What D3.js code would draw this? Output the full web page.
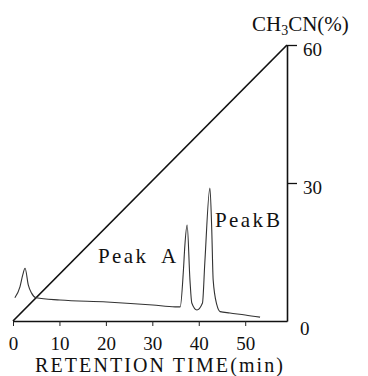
<!DOCTYPE html>
<html>
<head>
<meta charset="utf-8">
<script src="https://cdn.jsdelivr.net/npm/d3@7"></script>
</head>
<body style="margin:0">
<script>
// Data.
// retention time (min) and detector signal (arbitrary units)
const traceTime = [0.4, 1.5, 2.1, 2.6, 3.3, 4.0, 5.0, 10.1, 20.2, 30.1, 34.9, 36.0, 36.7, 37.0, 37.5,
  38.1, 38.5, 39.6, 40.8, 41.3, 42.4, 42.8, 43.1, 43.9, 44.6, 46.7, 50.0, 53.2];
const traceSignal = [0.084, 0.124, 0.167, 0.191, 0.130, 0.101, 0.084, 0.076, 0.069, 0.058, 0.051, 0.051, 0.185, 0.272, 0.348,
  0.149, 0.065, 0.040, 0.065, 0.210, 0.482, 0.330, 0.149, 0.058, 0.034, 0.029, 0.022, 0.014];
// CH3CN gradient (% vs min)
const gradTime = [0, 59];
const gradPct = [0, 60];
const xTicks = [0, 10, 20, 30, 40, 50];
const pctTicks = [0, 30, 60];

const width = 368;
const height = 376;
const plot = {left: 13, right: 287, top: 45, bottom: 321};
const serif = "'Liberation Serif', Tinos, 'Times New Roman', 'Nimbus Roman', FreeSerif, Georgia, serif";

const svg = d3.select('body').append('svg')
  .attr('width', width)
  .attr('height', height);

// Scales
const x = d3.scaleLinear().domain([0, 59]).range([plot.left, plot.right]);
const yPct = d3.scaleLinear().domain([0, 60]).range([plot.bottom, plot.top]);
const ySig = d3.scaleLinear().domain([0, 1]).range([plot.bottom, plot.top]);

// Bottom axis
const xAxisG = svg.append('g')
  .attr('transform', `translate(0,${plot.bottom})`)
  .call(d3.axisBottom(x).tickValues(xTicks).tickSizeInner(5).tickSizeOuter(0).tickPadding(11));
xAxisG.attr('font-family', null);
xAxisG.select('.domain').attr('stroke', '#111').attr('stroke-width', 1.6);
xAxisG.selectAll('.tick line').attr('stroke', '#222').attr('stroke-width', 1);
xAxisG.selectAll('.tick text')
  .style('font-family', serif)
  .style('font-size', '19px')
  .attr('fill', '#111');

// Right axis (CH3CN %)
const yAxisG = svg.append('g')
  .attr('transform', `translate(${plot.right},0)`)
  .call(d3.axisRight(yPct).tickValues(pctTicks).tickSizeInner(10).tickSizeOuter(0).tickPadding(6));
yAxisG.attr('font-family', null);
yAxisG.select('.domain').attr('stroke', '#111').attr('stroke-width', 1.6);
yAxisG.selectAll('.tick line').attr('stroke', '#111').attr('stroke-width', 1.3)
  .filter(d => d === 0).remove();
yAxisG.selectAll('.tick text')
  .style('font-family', serif)
  .style('font-size', '19px')
  .attr('dy', '0.55em')
  .attr('fill', '#111');
yAxisG.selectAll('.tick').filter(d => d === 0).select('text').attr('x', 13).attr('dy', '0.7em');

// Gradient line
svg.append('path')
  .datum(gradTime.map((t, i) => [t, gradPct[i]]))
  .attr('fill', 'none')
  .attr('stroke', '#111')
  .attr('stroke-width', 1.7)
  .attr('d', d3.line().x(d => x(d[0])).y(d => yPct(d[1])));

// Chromatogram trace
svg.append('path')
  .datum(traceTime.map((t, i) => [t, traceSignal[i]]))
  .attr('fill', 'none')
  .attr('stroke', '#333')
  .attr('stroke-width', 1.1)
  .attr('d', d3.line().x(d => x(d[0])).y(d => ySig(d[1])).curve(d3.curveMonotoneX));

// Labels
function label(x0, y0, size, txt) {
  return svg.append('text')
    .attr('x', x0).attr('y', y0)
    .style('font-family', serif)
    .style('font-size', size + 'px')
    .attr('fill', '#111')
    .text(txt);
}
label(98, 263, 21, 'Peak').attr('textLength', 48);
label(161, 263, 21, 'A');
label(215, 227, 21, 'Peak').attr('textLength', 48);
label(266, 227, 21, 'B');

const ch = label(252, 31, 21, 'CH');
ch.append('tspan').style('font-size', '14px').attr('dy', 4).text('3');
ch.append('tspan').attr('dy', -4).text('CN(%)');

label(35, 372, 20, 'RETENTION TIME(min)').attr('textLength', 248);
</script>
</body>
</html>
